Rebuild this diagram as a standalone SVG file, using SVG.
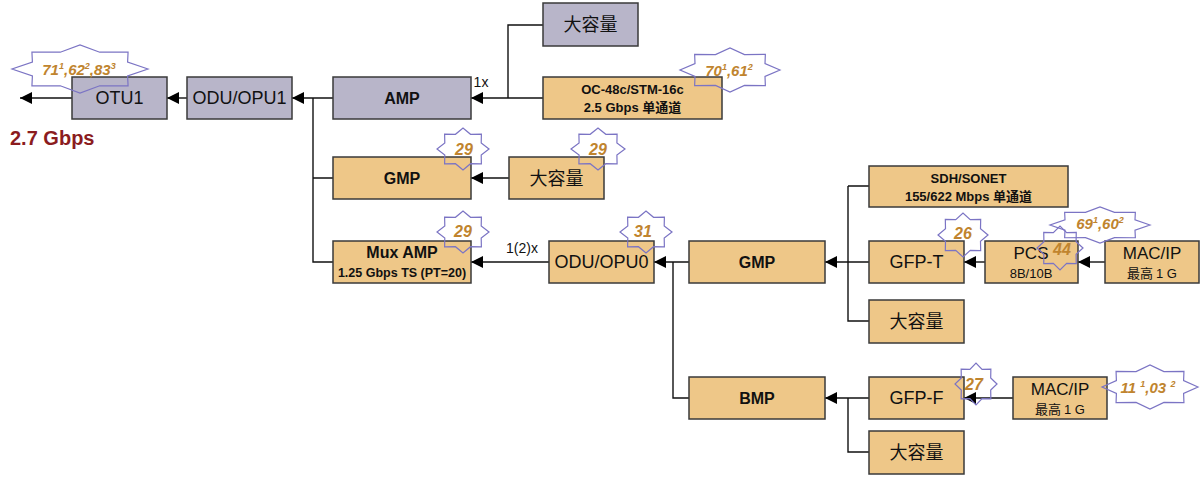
<svg xmlns="http://www.w3.org/2000/svg" xmlns:xlink="http://www.w3.org/1999/xlink" width="1202" height="479" viewBox="0 0 1202 479">
  <style>
    .box { stroke: #3a3a3a; stroke-width: 1.5; }
    .gray { fill: #b8b5c9; }
    .tan { fill: #eec788; }
    .lbl { font-family: "Liberation Sans", "Noto Sans CJK SC", sans-serif; fill: #111; text-anchor: middle; }
    .cjk { font-family: "Noto Sans CJK SC", "Liberation Sans", sans-serif; fill: #111; text-anchor: middle; }
    .b { font-weight: bold; }
    .wire { fill: none; stroke: #111; stroke-width: 1.4; }
    .arrow { marker-end: url(#head); }
    .badge { fill: none; stroke: #7b74c4; stroke-width: 1.2; }
    .num { font-family: "Liberation Sans", sans-serif; font-weight: bold; font-style: italic; fill: #c0842e; text-anchor: middle; }
  </style>
  <defs>
    <marker id="head" markerUnits="userSpaceOnUse" markerWidth="12" markerHeight="12" refX="12" refY="6" orient="auto">
      <path d="M0,0 L12,6 L0,12 Z" fill="#000"/>
    </marker>
    <!-- unit eight-point star, scaled per badge -->
    <polygon id="star" vector-effect="non-scaling-stroke"
      points="1,0 0.70,-0.29 0.707,-0.707 0.29,-0.70 0,-1 -0.29,-0.70 -0.707,-0.707 -0.70,-0.29 -1,0 -0.70,0.29 -0.707,0.707 -0.29,0.70 0,1 0.29,0.70 0.707,0.707 0.70,0.29"/>
  </defs>

  <rect width="1202" height="479" fill="#fff"/>

  <!-- connectors -->
  <g id="connectors">
    <path class="wire arrow" d="M72,98 H20"/>
    <path class="wire arrow" d="M187,98 H167"/>
    <path class="wire arrow" d="M333,98 H292"/>
    <path class="wire" d="M313,98 V262 H333 M313,178 H333"/>
    <path class="wire arrow" d="M543,98 H471"/>
    <path class="wire" d="M508,98 V25 H543"/>
    <path class="wire arrow" d="M509,178 H471"/>
    <path class="wire arrow" d="M549,262 H471"/>
    <path class="wire arrow" d="M689,262 H654"/>
    <path class="wire" d="M673,262 V398 H689"/>
    <path class="wire arrow" d="M869,262 H825"/>
    <path class="wire" d="M848,186 H869 M848,186 V321 H869"/>
    <path class="wire arrow" d="M985,262 H964"/>
    <path class="wire arrow" d="M1105,262 H1078"/>
    <path class="wire arrow" d="M869,398 H825"/>
    <path class="wire" d="M848,398 V452 H869"/>
    <path class="wire arrow" d="M1013,398 H964"/>
    <text class="lbl" x="481" y="87" font-size="14">1x</text>
    <text class="lbl" x="522" y="253" font-size="14">1(2)x</text>
  </g>

  <text x="10" y="145" font-family="Liberation Sans, sans-serif" font-weight="bold" font-size="20" fill="#8b1c1e">2.7 Gbps</text>

  <!-- nodes -->
  <g id="otu1">
    <rect class="box gray" x="72" y="77" width="95" height="42"/>
    <text class="lbl" x="119.5" y="104" font-size="18">OTU1</text>
  </g>
  <g id="odu-opu1">
    <rect class="box gray" x="187" y="77" width="105" height="42"/>
    <text class="lbl" x="239.5" y="104" font-size="18">ODU/OPU1</text>
  </g>
  <g id="amp">
    <rect class="box gray" x="333" y="77" width="138" height="42"/>
    <text class="lbl b" x="402" y="104" font-size="16">AMP</text>
  </g>
  <g id="bulk-top">
    <rect class="box gray" x="543" y="3" width="95" height="43"/>
    <text class="cjk" x="590.5" y="31" font-size="18">大容量</text>
  </g>
  <g id="oc48">
    <rect class="box tan" x="543" y="77" width="179" height="42"/>
    <text class="lbl b" x="632.5" y="94" font-size="13">OC-48c/STM-16c</text>
    <text class="lbl b" x="632.5" y="112" font-size="13">2.5 Gbps <tspan class="cjk">单通道</tspan></text>
  </g>
  <g id="gmp-odu1">
    <rect class="box tan" x="333" y="157" width="138" height="42"/>
    <text class="lbl b" x="402" y="184" font-size="16">GMP</text>
  </g>
  <g id="bulk-gmp">
    <rect class="box tan" x="509" y="157" width="95" height="42"/>
    <text class="cjk" x="556.5" y="185" font-size="18">大容量</text>
  </g>
  <g id="mux-amp">
    <rect class="box tan" x="333" y="241" width="138" height="42"/>
    <text class="lbl b" x="402" y="258" font-size="16">Mux AMP</text>
    <text class="lbl b" x="402" y="277" font-size="12.5">1.25 Gbps TS (PT=20)</text>
  </g>
  <g id="odu-opu0">
    <rect class="box tan" x="549" y="241" width="105" height="42"/>
    <text class="lbl" x="601.5" y="268" font-size="18">ODU/OPU0</text>
  </g>
  <g id="gmp-odu0">
    <rect class="box tan" x="689" y="241" width="136" height="42"/>
    <text class="lbl b" x="757" y="268" font-size="16">GMP</text>
  </g>
  <g id="bmp">
    <rect class="box tan" x="689" y="377" width="136" height="42"/>
    <text class="lbl b" x="757" y="404" font-size="16">BMP</text>
  </g>
  <g id="sdh-sonet">
    <rect class="box tan" x="869" y="166" width="199" height="41"/>
    <text class="lbl b" x="968.5" y="183" font-size="13">SDH/SONET</text>
    <text class="lbl b" x="968.5" y="201" font-size="13">155/622 Mbps <tspan class="cjk">单通道</tspan></text>
  </g>
  <g id="gfp-t">
    <rect class="box tan" x="869" y="241" width="95" height="42"/>
    <text class="lbl" x="916.5" y="268" font-size="18">GFP-T</text>
  </g>
  <g id="pcs">
    <rect class="box tan" x="985" y="241" width="93" height="42"/>
    <text class="lbl" x="1031" y="259" font-size="17">PCS</text>
    <text class="lbl" x="1031" y="278" font-size="13">8B/10B</text>
  </g>
  <g id="mac-ip-gfpt">
    <rect class="box tan" x="1105" y="241" width="94" height="42"/>
    <text class="lbl" x="1152" y="259" font-size="17">MAC/IP</text>
    <text class="cjk" x="1152" y="278" font-size="13">最高 <tspan font-family="Liberation Sans, sans-serif">1 G</tspan></text>
  </g>
  <g id="bulk-gmp-odu0">
    <rect class="box tan" x="869" y="300" width="95" height="43"/>
    <text class="cjk" x="916.5" y="328" font-size="18">大容量</text>
  </g>
  <g id="gfp-f">
    <rect class="box tan" x="869" y="377" width="95" height="42"/>
    <text class="lbl" x="916.5" y="404" font-size="18">GFP-F</text>
  </g>
  <g id="mac-ip-gfpf">
    <rect class="box tan" x="1013" y="377" width="94" height="42"/>
    <text class="lbl" x="1060" y="395" font-size="17">MAC/IP</text>
    <text class="cjk" x="1060" y="414" font-size="13">最高 <tspan font-family="Liberation Sans, sans-serif">1 G</tspan></text>
  </g>
  <g id="bulk-bmp">
    <rect class="box tan" x="869" y="431" width="95" height="43"/>
    <text class="cjk" x="916.5" y="459" font-size="18">大容量</text>
  </g>

  <!-- payload type badges -->
  <g id="badges">
    <use href="#star" class="badge" transform="translate(80,69) scale(68,24)"/>
    <text class="num" x="79" y="75" font-size="15">71<tspan dy="-6" font-size="9">1</tspan><tspan dy="6">,62</tspan><tspan dy="-6" font-size="9">2</tspan><tspan dy="6">,83</tspan><tspan dy="-6" font-size="9">3</tspan></text>

    <use href="#star" class="badge" transform="translate(730,70) scale(50,22)"/>
    <text class="num" x="729" y="76" font-size="15">70<tspan dy="-6" font-size="9">1</tspan><tspan dy="6">,61</tspan><tspan dy="-6" font-size="9">2</tspan></text>

    <use href="#star" class="badge" transform="translate(463,149) scale(26,21)"/>
    <text class="num" x="464" y="155" font-size="16">29</text>

    <use href="#star" class="badge" transform="translate(598,149) scale(27,21)"/>
    <text class="num" x="598" y="155" font-size="16">29</text>

    <use href="#star" class="badge" transform="translate(463,232) scale(26,21)"/>
    <text class="num" x="463" y="237" font-size="16">29</text>

    <use href="#star" class="badge" transform="translate(646,232) scale(26,21)"/>
    <text class="num" x="643" y="237" font-size="16">31</text>

    <use href="#star" class="badge" transform="translate(963,235) scale(25,22)"/>
    <text class="num" x="963" y="239" font-size="16">26</text>

    <use href="#star" class="badge" transform="translate(1060,248) scale(23,22)"/>
    <text class="num" x="1062" y="255" font-size="16">44</text>

    <use href="#star" class="badge" transform="translate(1100,225) scale(50,18)"/>
    <text class="num" x="1100" y="229" font-size="15">69<tspan dy="-6" font-size="9">1</tspan><tspan dy="6">,60</tspan><tspan dy="-6" font-size="9">2</tspan></text>

    <use href="#star" class="badge" transform="translate(976,384) scale(21,21)"/>
    <text class="num" x="974" y="390" font-size="16">27</text>

    <use href="#star" class="badge" transform="translate(1150,387) scale(48,22)"/>
    <text class="num" x="1148" y="393" font-size="15">11 <tspan dy="-6" font-size="9">1</tspan><tspan dy="6">,03 </tspan><tspan dy="-6" font-size="9">2</tspan></text>
  </g>
</svg>
